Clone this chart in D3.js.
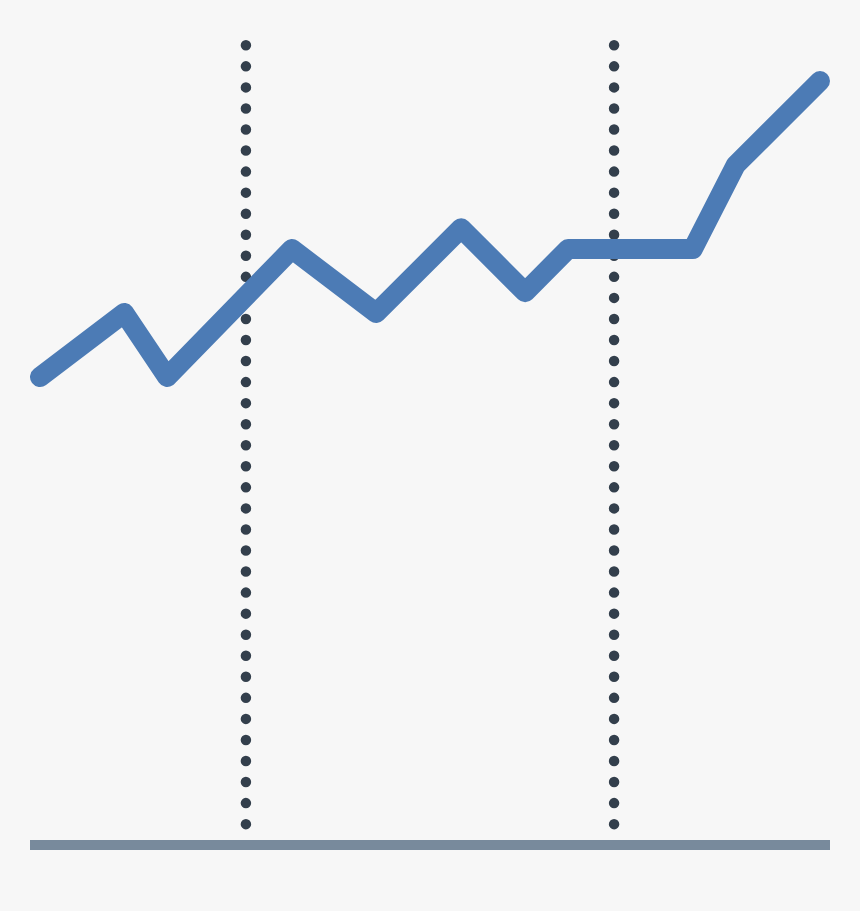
<!DOCTYPE html>
<html>
<head>
<meta charset="utf-8">
<script src="https://cdn.jsdelivr.net/npm/d3@7"></script>
<style>
  html, body { margin: 0; padding: 0; background: #f7f7f7; }
  svg { display: block; }
</style>
</head>
<body>
<svg id="chart" width="860" height="911"></svg>
<script>
// Data
const xValues = [0, 10.8, 16.3, 32.3, 43.1, 54, 62.2, 67.7, 83.7, 89.2, 100];
const yValues = [58.5, 66.5, 58.5, 74.5, 66.5, 77.1, 69.1, 74.5, 74.5, 85, 95.5];
const markers = [26.4, 73.6];

const W = 860, H = 911;
const svg = d3.select("#chart");
svg.append("rect").attr("width", W).attr("height", H).attr("fill", "#f7f7f7");

const x = d3.scaleLinear().domain([0, 100]).range([40, 820]);
const y = d3.scaleLinear().domain([0, 100]).range([845, 45]);

// baseline
svg.append("line")
  .attr("x1", x(0) - 10).attr("x2", x(100) + 10)
  .attr("y1", y(0)).attr("y2", y(0))
  .attr("stroke", "#788a9c").attr("stroke-width", 10);

// dotted vertical markers
svg.selectAll("line.marker").data(markers).enter().append("line")
  .attr("class", "marker")
  .attr("x1", d => x(d)).attr("x2", d => x(d))
  .attr("y1", y(100) + 0.3).attr("y2", y(2.5))
  .attr("stroke", "#333f4c")
  .attr("stroke-width", 10.5)
  .attr("stroke-linecap", "round")
  .attr("stroke-dasharray", "0 21.05");

// main line
const pts = xValues.map((v, i) => [v, yValues[i]]);
svg.append("path")
  .datum(pts)
  .attr("d", d3.line().x(d => x(d[0])).y(d => y(d[1])))
  .attr("fill", "none")
  .attr("stroke", "#4c7bb5")
  .attr("stroke-width", 20)
  .attr("stroke-linecap", "round")
  .attr("stroke-linejoin", "round");
</script>
</body>
</html>
